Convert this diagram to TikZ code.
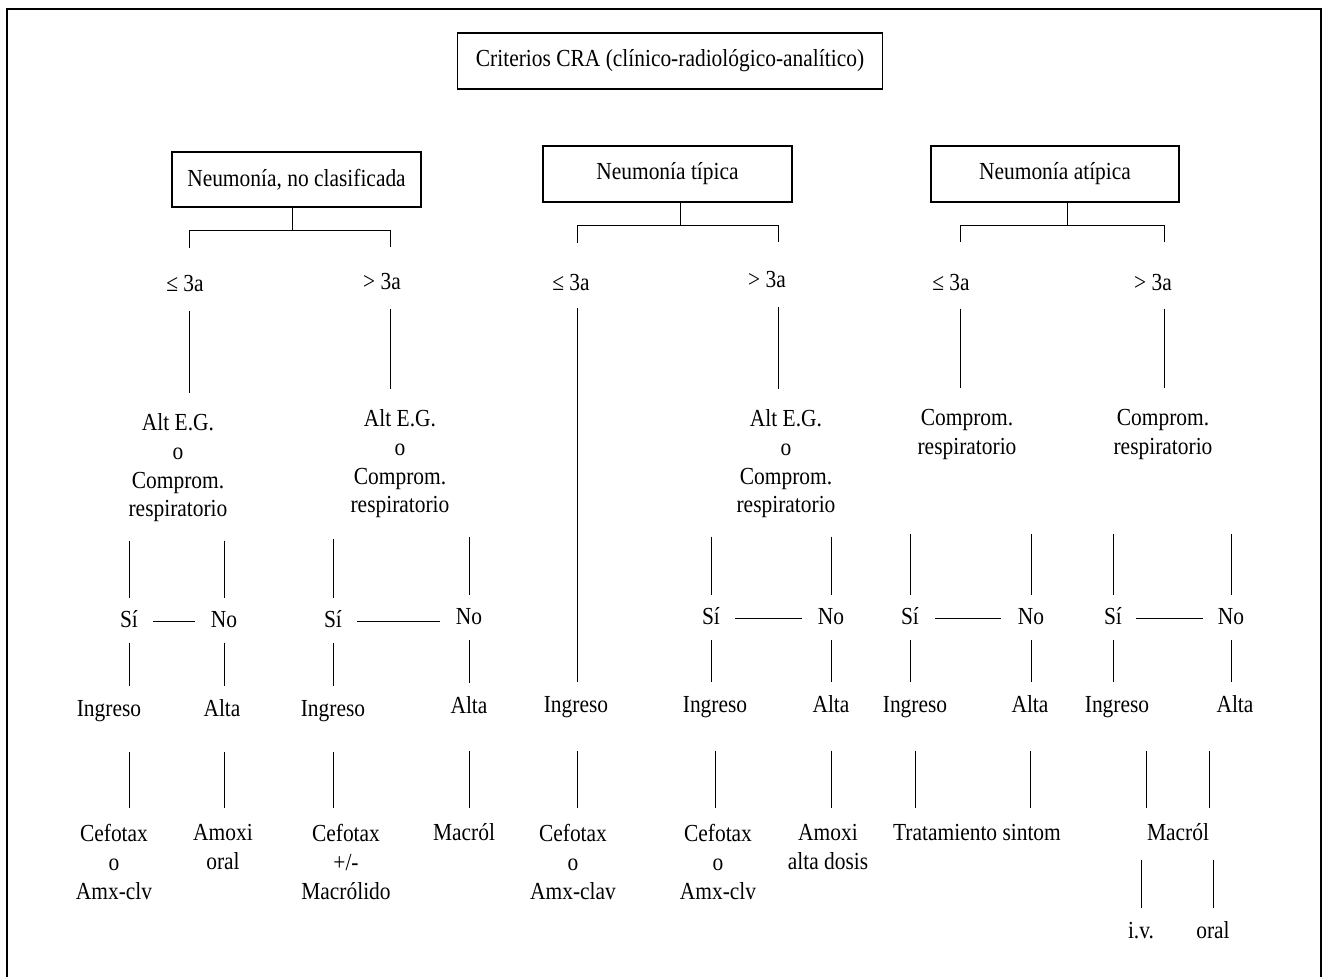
\documentclass[tikz,border=0pt]{standalone}
\usepackage{fontspec}
\setmainfont{Liberation Serif}[FakeStretch=0.875]
\newcommand{\stem}{23}

\begin{document}
\begin{tikzpicture}[x=1pt, y=-1pt, line width=1pt,
  headbox/.style={draw, line width=1.2pt, minimum width=249pt, minimum height=56pt, inner sep=0pt, font=\fontsize{24.5}{28.8}\selectfont},
  lbl/.style={inner sep=0pt, text height=16pt, text depth=5pt, font=\fontsize{24.5}{28.8}\selectfont},
  multi/.style={inner sep=0pt, anchor=north, align=center, font=\fontsize{24.5}{28.8}\selectfont},
  link/.style 2 args={shorten <=#1pt, shorten >=#2pt}]
  \useasboundingbox (0,0) rectangle (1323,977);
  \draw[line width=1.2pt] (7,977) -- (7,9) -- (1321,9) -- (1321,977);

  \node[headbox, minimum width=425pt] (cra) at (670,61) {Criterios CRA (clínico-radiológico-analítico)};
  \node[headbox, minimum height=55pt] (nc) at (296.5,179.5) {Neumonía, no clasificada};
  \node[headbox] (nt) at (667.5,174) {Neumonía típica};
  \node[headbox, minimum width=248pt] (na) at (1055,174) {Neumonía atípica};

  \coordinate (sA) at (292,0);   \coordinate (sT) at (680,0);   \coordinate (sAt) at (1067,0);
  \coordinate (kA1) at (189,0);  \coordinate (kA2) at (390,0);
  \coordinate (kT1) at (577,0);  \coordinate (kT2) at (778,0);
  \coordinate (kAt1) at (960,0); \coordinate (kAt2) at (1164,0);

  % edades
  \node[lbl] (leA) at (185,285.5) {≤ 3a};
  \node[lbl] (gtA) at (382,283.5) {> 3a};
  \node[lbl] (leT) at (571,284.5) {≤ 3a};
  \node[lbl] (gtT) at (767,281.5) {> 3a};
  \node[lbl] (leAt) at (951,284.5) {≤ 3a};
  \node[lbl] (gtAt) at (1153,284.5) {> 3a};

  \node[multi] (critA1) at (178,413) {Alt E.G.\\o\\Comprom.\\respiratorio};
  \node[multi] (critA2) at (400,409) {Alt E.G.\\o\\Comprom.\\respiratorio};
  \node[multi] (critT2) at (786,409) {Alt E.G.\\o\\Comprom.\\respiratorio};
  \node[multi] (critAt1) at (967,409) {Comprom.\\respiratorio};
  \node[multi] (critAt2) at (1163,409) {Comprom.\\respiratorio};

  \node[lbl] (siA1) at (129,621.5) {Sí};   \node[lbl] (noA1) at (224,621.5) {No};
  \node[lbl] (siA2) at (333,621.5) {Sí};   \node[lbl] (noA2) at (469,618.5) {No};
  \node[lbl] (siT2) at (711,618.5) {Sí};   \node[lbl] (noT2) at (831,618.5) {No};
  \node[lbl] (siAt1) at (910,618.5) {Sí};  \node[lbl] (noAt1) at (1031,618.5) {No};
  \node[lbl] (siAt2) at (1113,618.5) {Sí}; \node[lbl] (noAt2) at (1231,618.5) {No};

  \node[lbl] (ingA1) at (109,710.5) {Ingreso};  \node[lbl] (altaA1) at (222,710.5) {Alta};
  \node[lbl] (ingA2) at (333,710.5) {Ingreso};  \node[lbl] (altaA2) at (469,707.5) {Alta};
  \node[lbl] (ingT1) at (576,706.5) {Ingreso};
  \node[lbl] (ingT2) at (715,706.5) {Ingreso};  \node[lbl] (altaT2) at (831,706.5) {Alta};
  \node[lbl] (ingAt1) at (915,706.5) {Ingreso}; \node[lbl] (altaAt1) at (1030,706.5) {Alta};
  \node[lbl] (ingAt2) at (1117,706.5) {Ingreso}; \node[lbl] (altaAt2) at (1235,706.5) {Alta};

  % tratamientos
  \node[multi] (cefA1) at (114,824) {Cefotax\\o\\Amx-clv};
  \node[multi] (amoA1) at (223,824) {Amoxi\\oral};
  \node[multi] (cefA2) at (346,824) {Cefotax\\+/-\\Macrólido};
  \node[lbl] (macA2) at (464,834.5) {Macról};
  \node[multi] (cefT1) at (573,824) {Cefotax\\o\\Amx-clav};
  \node[multi] (cefT2) at (718,824) {Cefotax\\o\\Amx-clv};
  \node[multi] (amoT2) at (828,824) {Amoxi\\alta dosis};
  \node[lbl] (trat) at (977,834.5) {Tratamiento sintom};
  \node[lbl] (macAt) at (1178,834.5) {Macról};
  \node[lbl] (iv) at (1141,933) {i.v.};
  \node[lbl] (oral) at (1213,933) {oral};

  \draw (sA |- nc.south) -- ++(0,\stem) coordinate (fA);
  \draw (sT |- nt.south) -- ++(0,\stem) coordinate (fT);
  \draw (sAt |- na.south) -- ++(0,\stem) coordinate (fAt);
  \draw[link={27}{26}] (kA1 |- leA.north) |- (fA) -| (kA2 |- gtA.north);
  \draw[link={31}{29}] (kT1 |- leT.north) |- (fT) -| (kT2 |- gtT.north);
  \draw[link={32}{32}] (kAt1 |- leAt.north) |- (fAt) -| (kAt2 |- gtAt.north);

  \draw[link={14}{20}] (kA1 |- leA.south) -- (kA1 |- critA1.north);
  \draw[link={14}{20}] (kA2 |- gtA.south) -- (kA2 |- critA2.north);
  \draw[link={12}{14}] (kT1 |- leT.south) -- (kT1 |- ingT1.north);
  \draw[link={14}{20}] (kT2 |- gtT.south) -- (kT2 |- critT2.north);
  \draw[link={13}{21}] (kAt1 |- leAt.south) -- (kAt1 |- critAt1.north);
  \draw[link={13}{21}] (kAt2 |- gtAt.south) -- (kAt2 |- critAt2.north);

  \draw[link={18}{13}] (siA1 |- critA1.south) -- (siA1.north);
  \draw[link={18}{13}] (noA1 |- critA1.south) -- (noA1.north);
  \draw[link={20}{13}] (siA2 |- critA2.south) -- (siA2.north);
  \draw[link={18}{13}] (noA2 |- critA2.south) -- (noA2.north);
  \draw[link={18}{13}] (siT2 |- critT2.south) -- (siT2.north);
  \draw[link={18}{13}] (noT2 |- critT2.south) -- (noT2.north);
  \draw[link={74}{13}] (siAt1 |- critAt1.south) -- (siAt1.north);
  \draw[link={74}{13}] (noAt1 |- critAt1.south) -- (noAt1.north);
  \draw[link={74}{13}] (siAt2 |- critAt2.south) -- (siAt2.north);
  \draw[link={74}{13}] (noAt2 |- critAt2.south) -- (noAt2.north);

  \draw[link={15}{15}] (siA1.east) -- (siA1.east -| noA1.west);
  \draw[link={15}{15}] (siA2.east) -- (siA2.east -| noA2.west);
  \draw[link={15}{15}] (siT2.east) -- (siT2.east -| noT2.west);
  \draw[link={16}{16}] (siAt1.east) -- (siAt1.east -| noAt1.west);
  \draw[link={14}{14}] (siAt2.east) -- (siAt2.east -| noAt2.west);

  \draw[link={10}{14}] (siA1.south) -- (siA1 |- ingA1.north);
  \draw[link={10}{14}] (noA1.south) -- (noA1 |- altaA1.north);
  \draw[link={10}{14}] (siA2.south) -- (siA2 |- ingA2.north);
  \draw[link={10}{14}] (noA2.south) -- (noA2 |- altaA2.north);
  \draw[link={10}{14}] (siT2.south) -- (siT2 |- ingT2.north);
  \draw[link={10}{14}] (noT2.south) -- (noT2 |- altaT2.north);
  \draw[link={10}{14}] (siAt1.south) -- (siAt1 |- ingAt1.north);
  \draw[link={10}{14}] (noAt1.south) -- (noAt1 |- altaAt1.north);
  \draw[link={10}{14}] (siAt2.south) -- (siAt2 |- ingAt2.north);
  \draw[link={10}{14}] (noAt2.south) -- (noAt2 |- altaAt2.north);

  \draw[link={30}{16}] (siA1 |- ingA1.south) -- (siA1 |- cefA1.north);
  \draw[link={30}{16}] (noA1 |- altaA1.south) -- (noA1 |- amoA1.north);
  \draw[link={30}{16}] (siA2 |- ingA2.south) -- (siA2 |- cefA2.north);
  \draw[link={32}{16}] (noA2 |- altaA2.south) -- (noA2 |- macA2.north);
  \draw[link={33}{16}] (kT1 |- ingT1.south) -- (kT1 |- cefT1.north);
  \draw[link={33}{16}] (ingT2.south) -- (ingT2 |- cefT2.north);
  \draw[link={33}{16}] (altaT2.south) -- (altaT2 |- amoT2.north);
  \draw[link={33}{16}] (ingAt1.south) -- (ingAt1 |- trat.north);
  \draw[link={33}{16}] (altaAt1.south) -- (altaAt1 |- trat.north);
  \draw[link={33}{16}] (macAt.north west |- ingAt2.south) -- (macAt.north west);
  \draw[link={33}{16}] (macAt.north east |- altaAt2.south) -- (macAt.north east);
  \draw[link={14}{14}] (iv |- macAt.south) -- (iv.north);
  \draw[link={14}{14}] (oral |- macAt.south) -- (oral.north);
\end{tikzpicture}
\end{document}
